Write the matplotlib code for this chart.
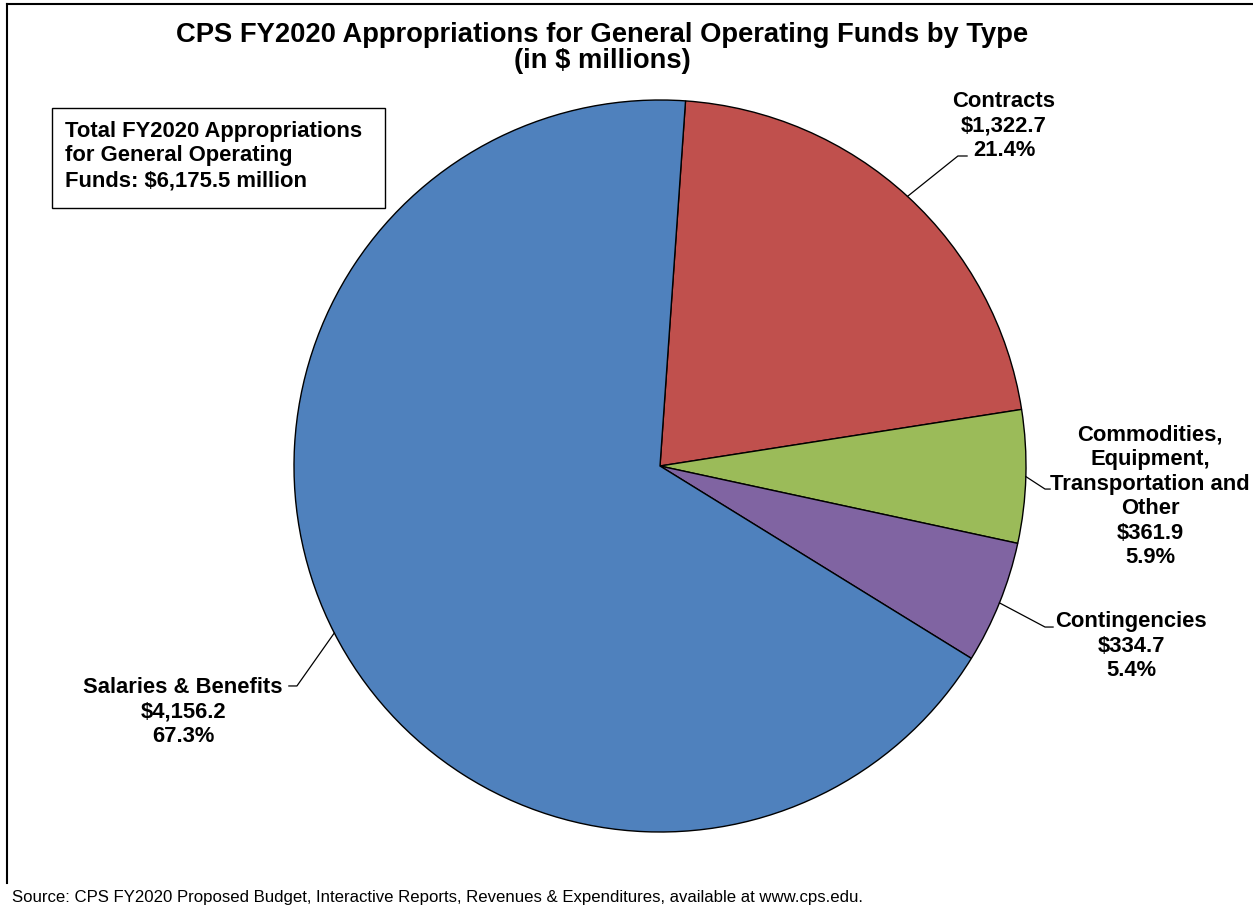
import numpy as np
import matplotlib
matplotlib.use('Agg')
import matplotlib.pyplot as plt
from matplotlib.patches import Rectangle
from matplotlib.lines import Line2D

# ─── DATA ─────────────────────────────────────────
categories = ['Contracts',
              'Commodities,\nEquipment,\nTransportation and\nOther',
              'Contingencies',
              'Salaries & Benefits']
values = [1322.7, 361.9, 334.7, 4156.2]
colors = ['#C0504D', '#9BBB59', '#8064A2', '#4F81BD']

title_text = 'CPS FY2020 Appropriations for General Operating Funds by Type\n(in $ millions)'
box_text = 'Total FY2020 Appropriations\nfor General Operating\nFunds: $6,175.5 million'
source_text = ('Source: CPS FY2020 Proposed Budget, Interactive Reports, Revenues & Expenditures, '
               'available at www.cps.edu.')

# label placement (axes data units, pie radius = 1): text centre, elbow, end of leader
label_xy = [(0.940, 0.928), (1.339, -0.083), (1.287, -0.492), (-1.303, -0.672)]
elbow_xy = [(0.814, 0.847), (1.052, -0.063), (1.052, -0.440), (-0.992, -0.601)]
end_xy = [(0.839, 0.847), (1.066, -0.063), (1.074, -0.440), (-1.014, -0.601)]

plt.rcParams['font.family'] = ['Liberation Sans', 'DejaVu Sans']

W, H = 1253, 905
fig = plt.figure(figsize=(W / 100, H / 100), dpi=100, facecolor='white')

# pie axes: centre (660, 466) px, radius 366 px
cx, cy, r = 660, 466, 366
ax = fig.add_axes([(cx - r) / W, 1 - (cy + r) / H, 2 * r / W, 2 * r / H])

wedges, _ = ax.pie(values, colors=colors, startangle=86, counterclock=False,
                   wedgeprops=dict(edgecolor='black', linewidth=1.0))
ax.set_xlim(-1, 1)
ax.set_ylim(-1, 1)
ax.set_aspect('equal')
ax.axis('off')

total = sum(values)
for w, name, val, txy, exy, nxy in zip(wedges, categories, values, label_xy, elbow_xy, end_xy):
    mid = np.deg2rad((w.theta1 + w.theta2) / 2)
    sx, sy = np.cos(mid), np.sin(mid)
    ax.plot([sx, exy[0], nxy[0]], [sy, exy[1], nxy[1]], color='black',
            linewidth=0.9, clip_on=False)
    label = f'{name}\n${val:,.1f}\n{val / total * 100:.1f}%'
    ax.text(txy[0], txy[1], label, ha='center', va='center', ma='center',
            fontsize=15.8, fontweight='bold', linespacing=1.22)

# title
fig.text(602 / W, 1 - 48 / H, title_text, ha='center', va='center', ma='center',
         fontsize=19.7, fontweight='bold', linespacing=1.02)

# total box
fig.patches.append(Rectangle((52 / W, 1 - 208 / H), 333 / W, 100 / H,
                             transform=fig.transFigure, fill=False,
                             edgecolor='black', linewidth=1.0))
fig.text(65 / W, 1 - 156 / H, box_text, ha='left', va='center',
         fontsize=15.8, fontweight='bold', linespacing=1.22)

# outer frame (top and left edges)
fig.add_artist(Line2D([7 / W, 1.0], [1 - 4 / H, 1 - 4 / H], color='black', linewidth=1.5))
fig.add_artist(Line2D([7 / W, 7 / W], [1 - 4 / H, 1 - 883 / H], color='black', linewidth=1.5))

# source
fig.text(12 / W, 1 - 897 / H, source_text, ha='left', va='center', fontsize=12.1)

plt.savefig('out.png', dpi=100, facecolor='white')
plt.close()
